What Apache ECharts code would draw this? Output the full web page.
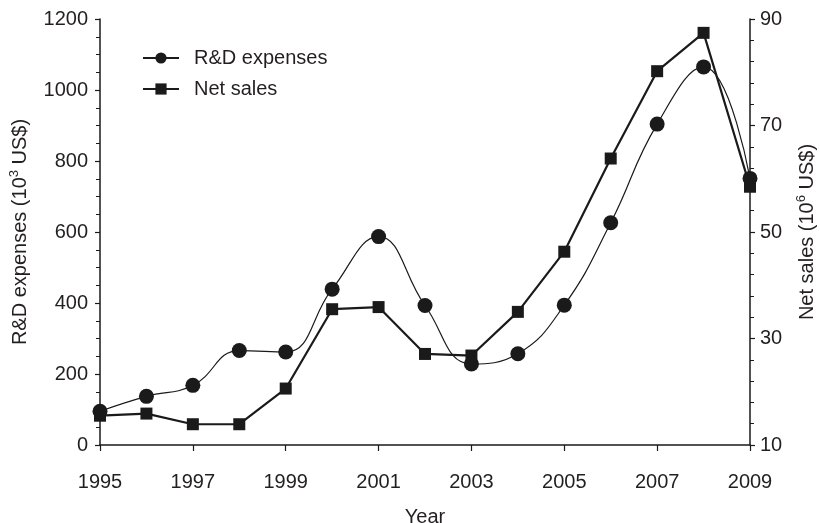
<!DOCTYPE html>
<html>
<head>
<meta charset="utf-8">
<script src="https://cdn.jsdelivr.net/npm/echarts@6/dist/echarts.min.js"></script>
<style>
  html, body { margin: 0; padding: 0; background: #fff; }
  #chart { width: 820px; height: 523px; }
</style>
</head>
<body>
<div id="chart"></div>
<script>
// Years on the horizontal axis
const years = [1995, 1996, 1997, 1998, 1999, 2000, 2001, 2002, 2003, 2004, 2005, 2006, 2007, 2008, 2009];
// R&D expenses, thousand US$ (left axis)
const rdExpenses = [95, 137, 168, 266, 262, 439, 587, 393, 228, 257, 394, 626, 904, 1065, 751];
// Net sales, million US$ (right axis)
const netSales = [15.5, 15.9, 13.9, 13.9, 20.6, 35.5, 35.9, 27.1, 26.8, 35.0, 46.3, 63.8, 80.2, 87.4, 58.5];

const ink = '#1a1a1a';
const textColor = '#231f20';
const font = '"Liberation Sans", Arial, Helvetica, sans-serif';
const fs = 20;

const pairs = (vals) => years.map((y, i) => [y, vals[i]]);

const chart = echarts.init(document.getElementById('chart'), null, { renderer: 'canvas' });

const axisCommon = {
  axisLine: { show: true, lineStyle: { color: ink, width: 1.5 } },
  axisTick: { show: true, inside: false, length: 5, lineStyle: { color: ink, width: 1.2 } },
  splitLine: { show: false },
  axisLabel: { color: textColor, fontSize: fs, fontFamily: font, formatter: (v) => String(v) }
};

const nameRich = {
  a: { fontSize: fs, color: textColor, fontFamily: font, lineHeight: 24 },
  s: { fontSize: 13, color: textColor, fontFamily: font, lineHeight: 24, verticalAlign: 'top' }
};

chart.setOption({
  animation: false,
  backgroundColor: '#fff',
  textStyle: { fontFamily: font, color: textColor },
  grid: { left: 100, right: 70, top: 19, bottom: 78, containLabel: false, outerBoundsMode: 'none' },
  legend: {
    orient: 'vertical',
    left: 137,
    top: 43,
    itemWidth: 36,
    itemHeight: 14,
    itemGap: 11,
    textStyle: { fontSize: fs, lineHeight: 20, color: textColor, fontFamily: font, padding: [0, 0, 0, 10] },
    data: ['R&D expenses', 'Net sales']
  },
  xAxis: {
    type: 'value',
    min: 1995,
    max: 2009,
    interval: 2,
    name: 'Year',
    nameLocation: 'middle',
    nameGap: 62,
    nameTextStyle: { fontSize: fs, color: textColor, fontFamily: font },
    ...axisCommon,
    axisTick: { show: true, length: 6, lineStyle: { color: ink, width: 1.2 } },
    minorTick: { show: false },
    axisLabel: { ...axisCommon.axisLabel, margin: 27 }
  },
  yAxis: [
    {
      type: 'value',
      position: 'left',
      min: 0,
      max: 1200,
      interval: 200,
      name: '{a|R&D expenses (10}{s|3}{a| US$)}',
      nameLocation: 'middle',
      nameRotate: 90,
      nameGap: 68,
      nameTextStyle: { rich: nameRich },
      ...axisCommon,
      minorTick: { show: true, splitNumber: 4, length: 4, lineStyle: { color: ink, width: 1 } },
      axisLabel: { ...axisCommon.axisLabel, margin: 12 }
    },
    {
      type: 'value',
      position: 'right',
      min: 10,
      max: 90,
      interval: 20,
      name: '{a|Net sales (10}{s|6}{a| US$)}',
      nameLocation: 'middle',
      nameRotate: 90,
      nameGap: 45,
      nameTextStyle: { rich: nameRich },
      ...axisCommon,
      minorTick: { show: true, splitNumber: 5, length: 4, lineStyle: { color: ink, width: 1 } },
      axisLabel: { ...axisCommon.axisLabel, margin: 10 }
    }
  ],
  series: [
    {
      name: 'R&D expenses',
      type: 'line',
      yAxisIndex: 0,
      data: pairs(rdExpenses),
      smooth: 0.45,
      symbol: 'circle',
      symbolSize: 15,
      itemStyle: { color: ink },
      lineStyle: { color: ink, width: 1.2 },
      z: 2
    },
    {
      name: 'Net sales',
      type: 'line',
      yAxisIndex: 1,
      data: pairs(netSales),
      smooth: false,
      symbol: 'rect',
      symbolSize: 12,
      itemStyle: { color: ink },
      lineStyle: { color: ink, width: 2.2 },
      z: 3
    }
  ]
});
</script>
</body>
</html>
